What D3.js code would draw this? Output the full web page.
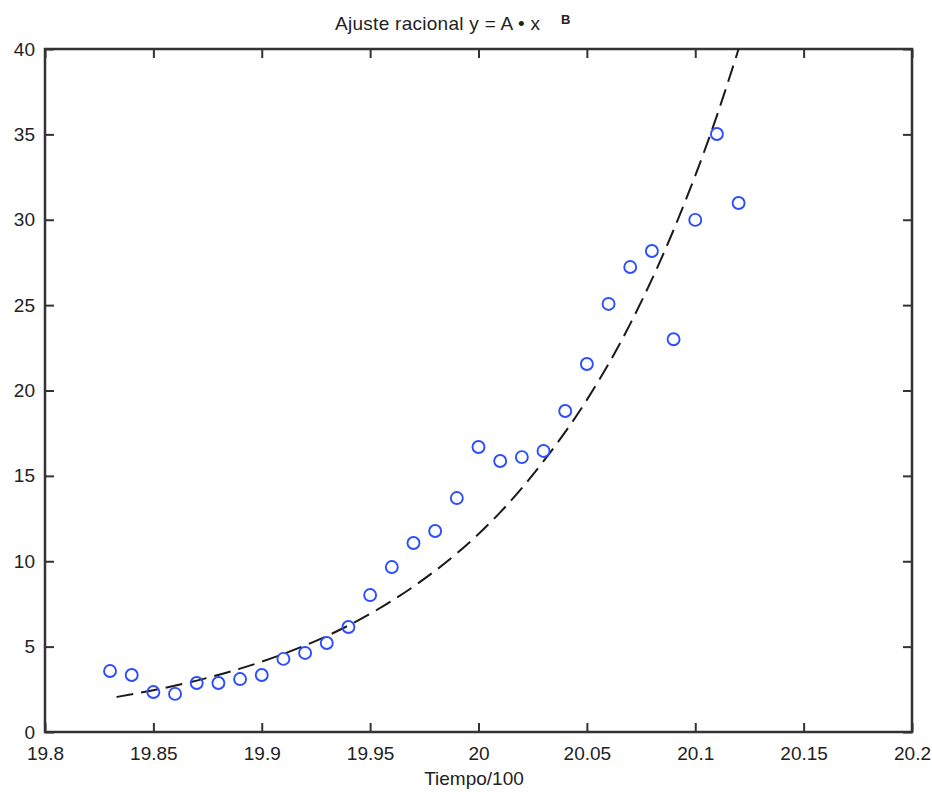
<!DOCTYPE html>
<html>
<head>
<meta charset="utf-8">
<script src="https://cdn.jsdelivr.net/npm/d3@7"></script>
<style>
  body { margin: 0; background: #fff; }
  text { font-family: "Liberation Sans", Arial, sans-serif; fill: #222; }
</style>
</head>
<body>
<svg id="chart" width="932" height="792"></svg>
<script>
// observed values
var years = [19.83, 19.84, 19.85, 19.86, 19.87, 19.88, 19.89, 19.90, 19.91, 19.92,
             19.93, 19.94, 19.95, 19.96, 19.97, 19.98, 19.99, 20.00, 20.01, 20.02,
             20.03, 20.04, 20.05, 20.06, 20.07, 20.08, 20.09, 20.10, 20.11, 20.12];
var values = [3.57, 3.34, 2.34, 2.23, 2.87, 2.87, 3.10, 3.34, 4.28, 4.63,
              5.21, 6.15, 8.02, 9.66, 11.07, 11.77, 13.70, 16.69, 15.87, 16.10,
              16.46, 18.80, 21.55, 25.07, 27.23, 28.17, 23.00, 29.99, 35.02, 30.98];

// fitted curve
var fitX = [19.833, 19.85, 19.87, 19.89, 19.91, 19.93, 19.95, 19.97, 19.99,
            20.01, 20.03, 20.05, 20.07, 20.09, 20.11, 20.12];
var fitY = [2.05, 2.45, 3.01, 3.71, 4.57, 5.62, 6.92, 8.52, 10.46,
            12.86, 15.86, 19.45, 23.9, 29.4, 36.1, 40.0];

var xTicks = [19.8, 19.85, 19.9, 19.95, 20, 20.05, 20.1, 20.15, 20.2];
var xTickLabels = ["19.8", "19.85", "19.9", "19.95", "20", "20.05", "20.1", "20.15", "20.2"];
var yTicks = [0, 5, 10, 15, 20, 25, 30, 35, 40];
var yTickLabels = ["0", "5", "10", "15", "20", "25", "30", "35", "40"];

var svg = d3.select("#chart");
var mLeft = 45, mRight = 912, mTop = 49, mBottom = 732;

var x = d3.scaleLinear().domain([19.8, 20.2]).range([mLeft, mRight]);
var y = d3.scaleLinear().domain([0, 40]).range([mBottom, mTop]);

var tickLen = 9;

// axes (ticks pointing inward, MATLAB style)
var xBottom = d3.axisBottom(x).tickValues(xTicks)
  .tickFormat(function(d, i) { return xTickLabels[i]; })
  .tickSizeInner(-tickLen).tickSizeOuter(0).tickPadding(15);
var xTop = d3.axisTop(x).tickValues(xTicks).tickFormat("")
  .tickSizeInner(-tickLen).tickSizeOuter(0);
var yLeft = d3.axisLeft(y).tickValues(yTicks)
  .tickFormat(function(d, i) { return yTickLabels[i]; })
  .tickSizeInner(-tickLen).tickSizeOuter(0).tickPadding(10);
var yRight = d3.axisRight(y).tickValues(yTicks).tickFormat("")
  .tickSizeInner(-tickLen).tickSizeOuter(0);

function styleAxis(g) {
  g.select(".domain").remove();
  g.selectAll(".tick line").attr("stroke", "#333").attr("stroke-width", 2);
  g.selectAll(".tick text").attr("font-size", 19).attr("fill", "#222")
    .style("font-family", "'Liberation Sans', Arial, sans-serif");
}

svg.append("g").attr("transform", "translate(0," + mBottom + ")").call(xBottom).call(styleAxis);
svg.append("g").attr("transform", "translate(0," + mTop + ")").call(xTop).call(styleAxis);
svg.append("g").attr("transform", "translate(" + mLeft + ",0)").call(yLeft).call(styleAxis);
svg.append("g").attr("transform", "translate(" + mRight + ",0)").call(yRight).call(styleAxis);

// box
svg.append("rect")
  .attr("x", mLeft).attr("y", mTop)
  .attr("width", mRight - mLeft).attr("height", mBottom - mTop)
  .attr("fill", "none").attr("stroke", "#333").attr("stroke-width", 2.5);

// fitted dashed curve
var fit = fitX.map(function(d, i) { return [d, fitY[i]]; });
var line = d3.line()
  .x(function(d) { return x(d[0]); })
  .y(function(d) { return y(d[1]); })
  .curve(d3.curveMonotoneX);

svg.append("path")
  .datum(fit)
  .attr("d", line)
  .attr("fill", "none")
  .attr("stroke", "#1a1a1a")
  .attr("stroke-width", 2)
  .attr("stroke-dasharray", "17,8");

// data markers
svg.append("g").selectAll("circle")
  .data(years)
  .enter()
  .append("circle")
  .attr("cx", function(d) { return x(d); })
  .attr("cy", function(d, i) { return y(values[i]); })
  .attr("r", 6)
  .attr("fill", "none")
  .attr("stroke", "#2a4dff")
  .attr("stroke-width", 1.9);

// title
svg.append("text")
  .attr("x", 335).attr("y", 30)
  .attr("font-size", 19)
  .attr("textLength", 205)
  .text("Ajuste racional y = A • x");
svg.append("text")
  .attr("x", 561).attr("y", 24)
  .attr("font-size", 13)
  .attr("font-weight", "bold")
  .text("B");

// x label
svg.append("text")
  .attr("x", 474).attr("y", 785)
  .attr("text-anchor", "middle")
  .attr("font-size", 19)
  .text("Tiempo/100");
</script>
</body>
</html>
